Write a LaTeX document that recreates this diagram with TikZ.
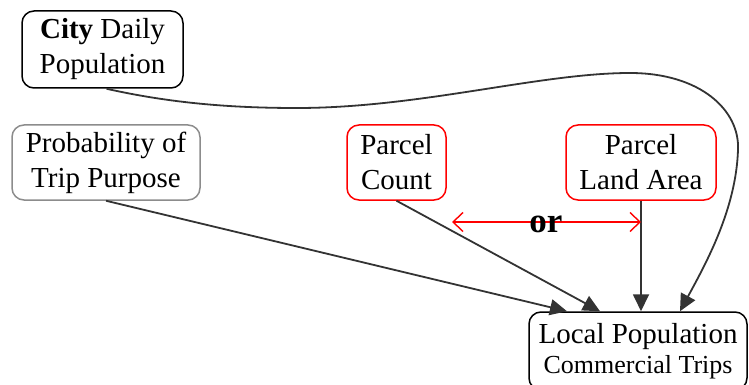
\documentclass[tikz,border=0pt]{standalone}
\usepackage{fontspec}
\setmainfont{Liberation Serif}
\usetikzlibrary{arrows.meta,calc}
\definecolor{edgegray}{HTML}{333333}
\definecolor{boxgray}{HTML}{8C8C8C}
\tikzset{
  box/.style={draw, rounded corners=12pt, line width=1.5pt, align=center,
    inner sep=0pt, font=\fontsize{29}{35}\selectfont},
  link/.style={draw=edgegray, line width=1.8pt,
    -{Triangle[length=17pt,width=16pt,fill=edgegray]}},
  choice/.style={draw=red, line width=1.4pt,
    {Straight Barb[length=10pt,width=19pt]}-{Straight Barb[length=10pt,width=19pt]}},
}
\begin{document}
\begin{tikzpicture}[x=1pt,y=-1pt]
\useasboundingbox (0,0) rectangle (749,385);

\node[box, minimum width=161pt, minimum height=77pt] (city) at (102.5,49.5)
  {\textbf{City} Daily\\Population};
\node[box, draw=boxgray, minimum width=188pt, minimum height=75pt] (prob) at (106,162.5)
  {Probability of\\Trip Purpose};
\node[box, draw=red, minimum width=99pt, minimum height=75pt] (count) at (396.5,162.5)
  {Parcel\\Count};
\node[box, draw=red, minimum width=150pt, minimum height=75pt] (area) at (641,162.5)
  {Parcel\\Land Area};
\node[box, minimum width=218pt, minimum height=78pt] (local) at (638,351)
  {Local Population\\[-5pt]{\fontsize{26}{31}\selectfont Commercial Trips}};

% connectors into the bottom node
\draw[link] (prob.south) -- ($(local.north)+(-71,0)$);
\draw[link] (count.south) -- ($(local.north)+(-38,0)$);
\draw[link] (area.south) -- (area.south |- local.north);
\draw[link] ($(city.south)+(4,0)$)
  .. controls (170,103) and (230,108) .. (297,108)
  .. controls (420,108) and (540,73) .. (630,73)
  .. controls (700,73) and (740,110) .. (738,150)
  .. controls (736,210) and (705,265) .. ($(local.north)+(42,0)$);

% either-or choice between the two parcel measures
\coordinate (orL) at (452,222);
\coordinate (orR) at (area.south |- orL);
\draw[choice] (orL) -- (orR);
\node[font=\fontsize{35}{40}\selectfont\bfseries, inner sep=0pt] (or) at (546,224) {or};
\end{tikzpicture}
\end{document}
